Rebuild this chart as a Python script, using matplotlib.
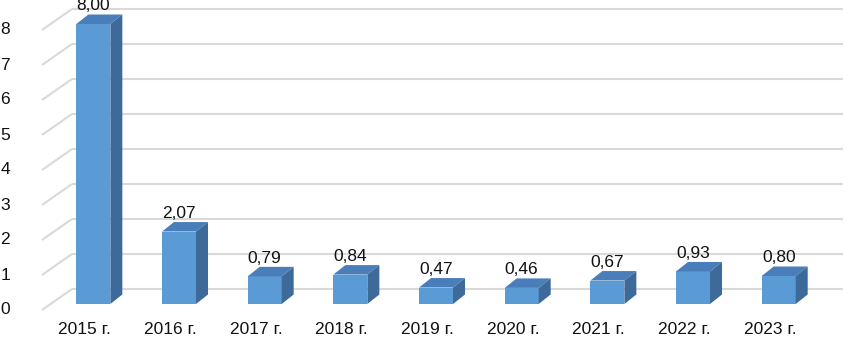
import matplotlib
matplotlib.use("Agg")
import matplotlib.pyplot as plt
from matplotlib.patches import Polygon

categories = ["2015 г.", "2016 г.", "2017 г.", "2018 г.", "2019 г.", "2020 г.", "2021 г.", "2022 г.", "2023 г."]
values = [8.00, 2.07, 0.79, 0.84, 0.47, 0.46, 0.67, 0.93, 0.80]
y_ticks = [0, 1, 2, 3, 4, 5, 6, 7, 8]

plt.rcParams['font.family'] = ['Liberation Sans', 'DejaVu Sans']

W, H = 849, 337
fig = plt.figure(figsize=(W / 100, H / 100), dpi=100)
ax = fig.add_axes([0, 0, 1, 1])
ax.set_axis_off()

# pixel geometry
PX_CAT = 85.67      # px per category
X0 = 42.0           # front-left px
PX_UNIT = 35.0      # px per value unit
Y0 = 310.0          # px of value 0 at front plane
ax.set_xlim(-0.5 - X0 / PX_CAT, -0.5 + (W - X0) / PX_CAT)
ax.set_ylim((Y0 - H) / PX_UNIT, Y0 / PX_UNIT)

def px_x(p):
    return p / PX_CAT

def px_y(p):
    return p / PX_UNIT

# wall depth
DX, DY = px_x(30), px_y(21)
# bar front offset and bar depth
BX, BY = px_x(8.5), px_y(6)
dX, dY = px_x(12), px_y(9.5)
BW = px_x(34)

grid_color = "#D9D9D9"
n = len(categories)

for t in y_ticks:
    ax.plot([-0.5, -0.5 + DX], [t, t + DY], color=grid_color, lw=1.5, zorder=1,
            solid_capstyle='butt')
    ax.plot([-0.5 + DX, n - 0.5 + DX], [t + DY, t + DY], color=grid_color, lw=1.5,
            zorder=1, solid_capstyle='butt')
    ax.text(-0.5 - px_x(37), t, str(t), ha='center', va='center', fontsize=12.5,
            color='#111111')

front_c = "#5B9BD5"
top_c = "#4A7EBB"
side_c = "#3D6A99"

for i, (cat, v) in enumerate(zip(categories, values)):
    xl = i - BW / 2 + BX
    xr = i + BW / 2 + BX
    yb = BY
    yt = v + BY
    ax.add_patch(Polygon([(xl, yb), (xr, yb), (xr, yt), (xl, yt)], closed=True,
                         facecolor=front_c, edgecolor='none', zorder=3))
    ax.add_patch(Polygon([(xl, yt), (xr, yt), (xr + dX, yt + dY), (xl + dX, yt + dY)],
                         closed=True, facecolor=top_c, edgecolor='none', zorder=3))
    ax.add_patch(Polygon([(xr, yb), (xr + dX, yb + dY), (xr + dX, yt + dY), (xr, yt)],
                         closed=True, facecolor=side_c, edgecolor='none', zorder=3))
    ax.text(i + BX, yt + dY + px_y(4), f"{v:.2f}".replace('.', ','), ha='center',
            va='baseline', fontsize=12.5, color='#111111', zorder=4)
    ax.text(i, px_y(-19), cat, ha='center', va='center', fontsize=12.5, color='#111111')

fig.savefig("out.png", dpi=100)
